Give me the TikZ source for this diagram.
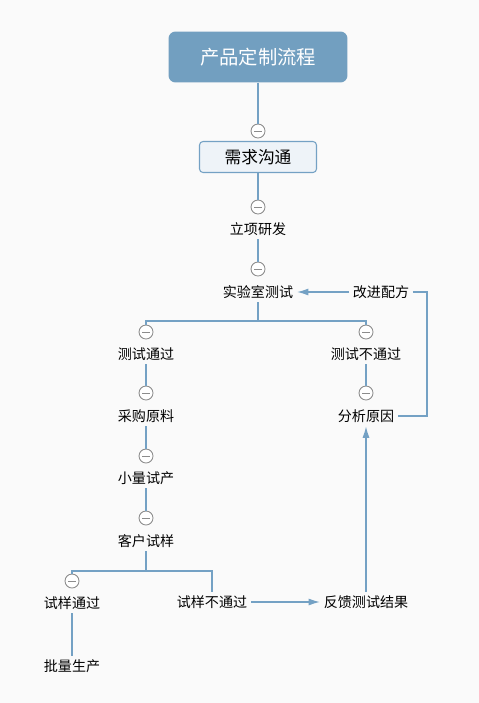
\documentclass[tikz,border=0pt]{standalone}
\usepackage{fontspec}
\newfontfamily\cjk{Noto Sans CJK SC}
\usetikzlibrary{arrows.meta, positioning}
\definecolor{linkblue}{HTML}{74A1C4}
\definecolor{titlefill}{HTML}{729FC0}
\definecolor{boxfill}{HTML}{EEF3F8}
\definecolor{knobgray}{HTML}{8C8C8C}
\definecolor{paper}{HTML}{FAFAFA}

\begin{document}
\begin{tikzpicture}[x=0.02cm, y=-0.02cm,
  topic/.style={font=\cjk\fontsize{8}{10}\selectfont, inner sep=2pt},
  root/.style={fill=titlefill, rounded corners=4pt, text=white, minimum width=3.58cm,
    minimum height=1.02cm, font=\cjk\fontsize{11}{13}\selectfont},
  mainbox/.style={draw=linkblue, fill=boxfill, rounded corners=2pt, line width=0.6pt,
    minimum width=2.34cm, minimum height=0.62cm, font=\cjk\fontsize{9.5}{11}\selectfont},
  knob/.style={circle, draw=knobgray, fill=white, minimum size=0.28cm, inner sep=0pt, line width=0.5pt,
    path picture={\draw[knobgray, line width=0.5pt]
      ([xshift=-0.08cm]path picture bounding box.center) -- ([xshift=0.08cm]path picture bounding box.center);}},
  link/.style={draw=linkblue, line width=0.7pt},
  arrow/.style={link, -{Latex[length=6.5pt,width=4pt]}}
]
\fill[paper] (0,0) rectangle (479,703);

% main trunk
\node[root] (title) at (258,57) {产品定制流程};
\node[knob] (k1) at (258,131) {};
\node[mainbox] (req) at (258,157) {需求沟通};
\node[knob] (k2) at (258,207) {};
\node[topic] (rd) at (258,229) {立项研发};
\node[knob] (k3) at (258,269) {};
\node[topic] (lab) at (258,292) {实验室测试};
\node[topic] (improve) at (381,292) {改进配方};

% test branches
\node[knob] (k4) at (146,332) {};
\node[topic] (pass) at (146,354) {测试通过};
\node[knob] (k5) at (366,332) {};
\node[topic] (fail) at (366,354) {测试不通过};
\node[knob] (k6) at (146,393) {};
\node[topic] (buy) at (146,416) {采购原料};
\node[knob] (k7) at (366,393) {};
\node[topic] (cause) at (366,416) {分析原因};
\node[knob] (k8) at (146,456) {};
\node[topic] (pilot) at (146,478) {小量试产};
\node[knob] (k9) at (146,518) {};
\node[topic] (client) at (146,541) {客户试样};

% sample branches
\node[knob] (k10) at (72,581) {};
\node[topic] (ok) at (72,603) {试样通过};
\node[topic] (ng) at (212,602) {试样不通过};
\node[topic] (feedback) at (366,602) {反馈测试结果};
\node[topic] (mass) at (72,666) {批量生产};

\coordinate (b1) at (258,321);
\coordinate (b2) at (146,571);
\coordinate (turn) at (427,416);

\draw[link] (title) -- (k1);
\draw[link] (req) -- (k2);
\draw[link] (rd) -- (k3);
\draw[link] (lab) -- (b1) -| (k4);
\draw[link] (b1) -| (k5);
\draw[link] (pass) -- (k6);
\draw[link] (buy) -- (k8);
\draw[link] (pilot) -- (k9);
\draw[link] (fail) -- (k7);
\draw[link] (client) -- (b2) -| (k10);
\draw[link] (b2) -| (ng);
\draw[link] (ok) -- (mass);
\draw[arrow] (ng) -- (feedback);
\draw[arrow] (feedback) -- (cause);
\draw[link] (improve) -| (turn) |- (cause);
\draw[arrow] (improve) -- (lab);
\end{tikzpicture}
\end{document}
